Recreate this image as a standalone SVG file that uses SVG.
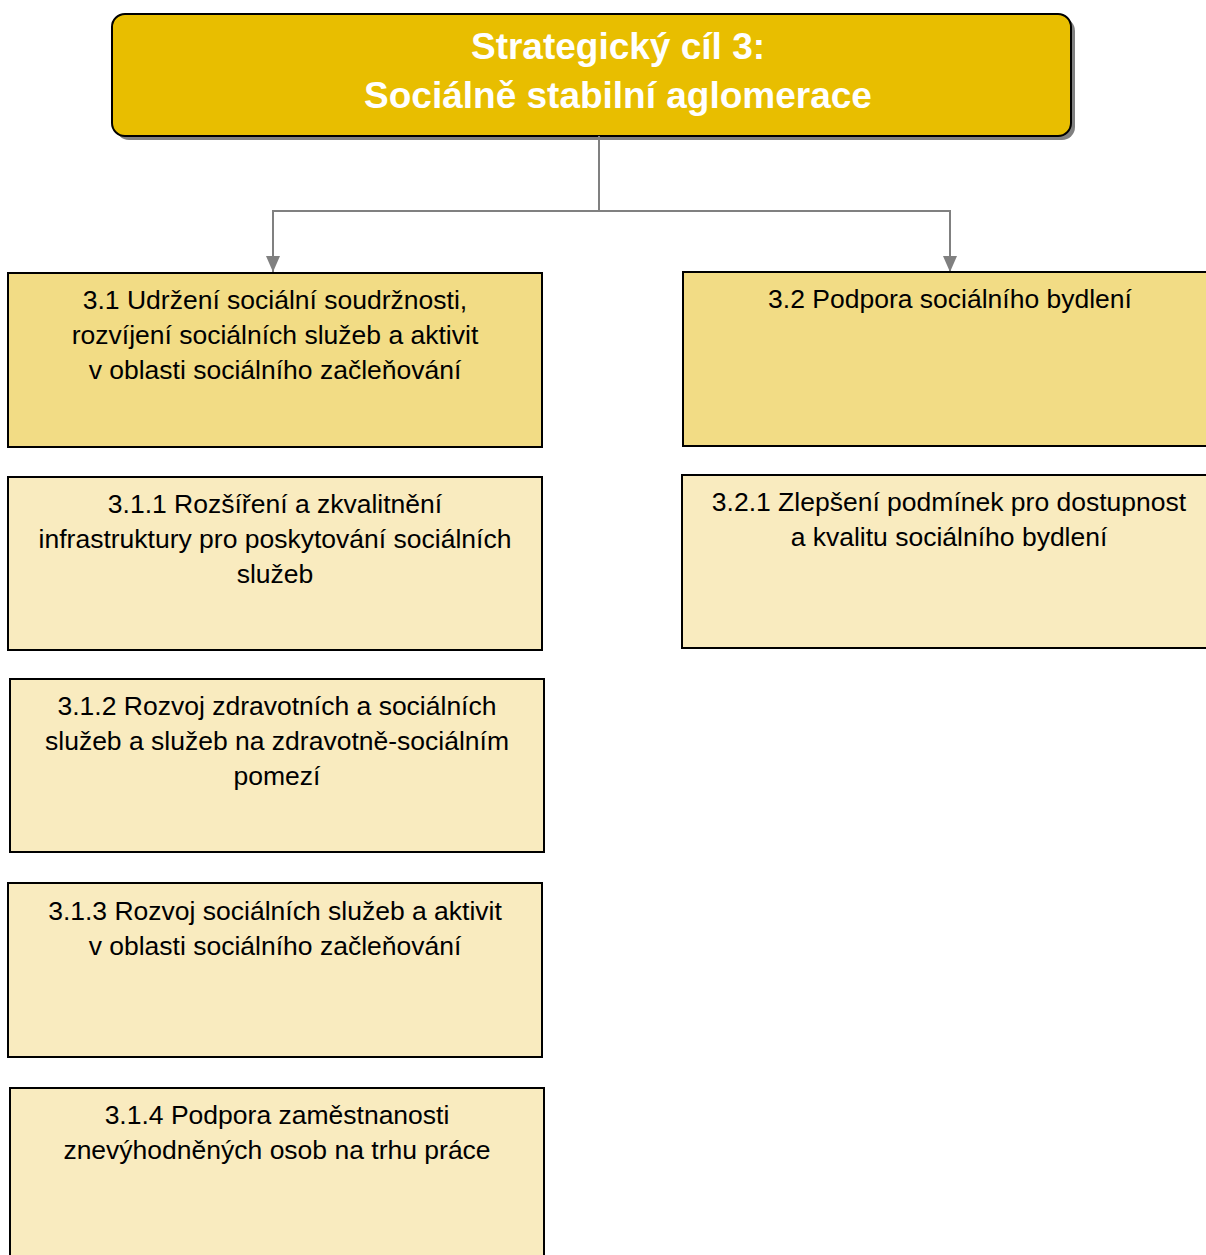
<svg xmlns="http://www.w3.org/2000/svg" width="1206" height="1255" viewBox="0 0 1206 1255">
<style>
.box{stroke:#000;stroke-width:2}
.l1{fill:#F2DC85}
.l2{fill:#F9EBBF}
.t{font-family:"Liberation Sans",Arial,sans-serif;font-size:26.5px;fill:#000;text-anchor:middle}
.title{font-family:"Liberation Sans",Arial,sans-serif;font-size:37px;font-weight:bold;fill:#fff;text-anchor:middle}
.conn{fill:none;stroke:#808080;stroke-width:2}
</style>
<defs>
<marker id="arrow" viewBox="0 0 16 14" refX="16" refY="7" markerWidth="16" markerHeight="14" markerUnits="userSpaceOnUse" orient="auto">
<path d="M0,0 L16,7 L0,14 z" fill="#808080"/>
</marker>
</defs>
<rect width="1206" height="1255" fill="#fff"/>
<g id="root">
<rect x="116" y="18" width="959" height="122" rx="13" fill="#808080"/>
<rect x="112" y="14" width="959" height="122" rx="13" fill="#E8BE00" stroke="#000" stroke-width="2"/>
<text class="title" x="618" y="59">Strategický cíl 3:</text>
<text class="title" x="618" y="108">Sociálně stabilní aglomerace</text>
</g>
<g id="connectors">
<path class="conn" d="M599,136 V211 H273 V272" marker-end="url(#arrow)"/>
<path class="conn" d="M599,211 H950 V272" marker-end="url(#arrow)"/>
</g>
<g id="n31">
<rect class="box l1" x="8" y="273" width="534" height="174"/>
<text class="t" x="275" y="309">3.1 Udržení sociální soudržnosti,</text>
<text class="t" x="275" y="344">rozvíjení sociálních služeb a aktivit</text>
<text class="t" x="275" y="379">v oblasti sociálního začleňování</text>
</g>
<g id="n32">
<rect class="box l1" x="683" y="272" width="534" height="174"/>
<text class="t" x="950" y="308">3.2 Podpora sociálního bydlení</text>
</g>
<g id="n311">
<rect class="box l2" x="8" y="477" width="534" height="173"/>
<text class="t" x="275" y="513">3.1.1 Rozšíření a zkvalitnění</text>
<text class="t" x="275" y="548">infrastruktury pro poskytování sociálních</text>
<text class="t" x="275" y="583">služeb</text>
</g>
<g id="n321">
<rect class="box l2" x="682" y="475" width="534" height="173"/>
<text class="t" x="949" y="511">3.2.1 Zlepšení podmínek pro dostupnost</text>
<text class="t" x="949" y="546">a kvalitu sociálního bydlení</text>
</g>
<g id="n312">
<rect class="box l2" x="10" y="679" width="534" height="173"/>
<text class="t" x="277" y="715">3.1.2 Rozvoj zdravotních a sociálních</text>
<text class="t" x="277" y="750">služeb a služeb na zdravotně-sociálním</text>
<text class="t" x="277" y="785">pomezí</text>
</g>
<g id="n313">
<rect class="box l2" x="8" y="883" width="534" height="174"/>
<text class="t" x="275" y="920">3.1.3 Rozvoj sociálních služeb a aktivit</text>
<text class="t" x="275" y="955">v oblasti sociálního začleňování</text>
</g>
<g id="n314">
<rect class="box l2" x="10" y="1088" width="534" height="180"/>
<text class="t" x="277" y="1124">3.1.4 Podpora zaměstnanosti</text>
<text class="t" x="277" y="1159">znevýhodněných osob na trhu práce</text>
</g>
</svg>
